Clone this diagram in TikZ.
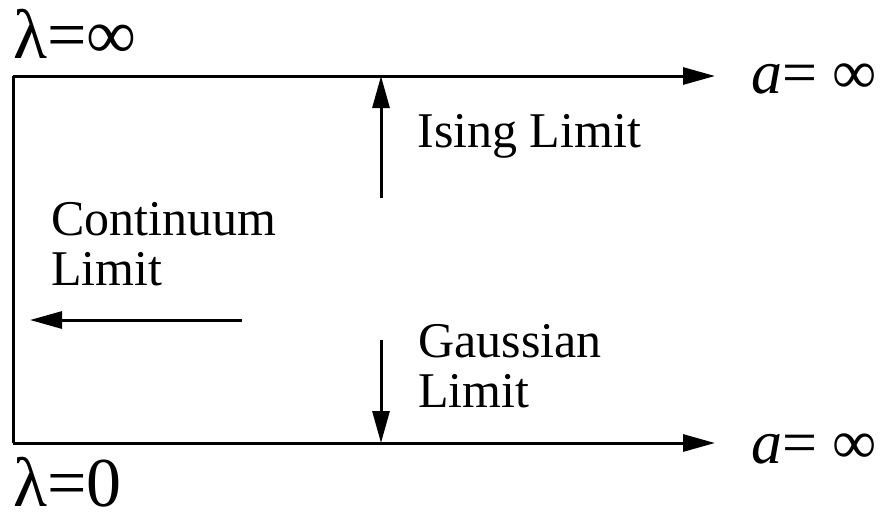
\documentclass[tikz,border=0pt]{standalone}
\usepackage{fontspec}
\setmainfont{Liberation Serif}
\usetikzlibrary{arrows.meta}
\begin{document}
\begin{tikzpicture}[x=0.5pt,y=-0.5pt,
  ln/.style={line width=1.5pt},
  arr/.style={ln,-{Triangle[length=16pt,width=8.5pt]}},
  lbl/.style={inner sep=0pt,anchor=base west,font=\fontsize{25}{25}\selectfont,align=left},
  big/.style={inner sep=0pt,anchor=base west,font=\fontsize{31}{31}\selectfont},
  lam/.style={inner sep=0pt,anchor=base west,font=\fontsize{35}{35}\selectfont}]
\useasboundingbox (0,0) rectangle (887,521);
\coordinate (tl) at (13,76);
\coordinate (bl) at (13,443);
\coordinate (tr) at (715,76);
\coordinate (br) at (715,443);
\coordinate (ut) at (381,76);
\coordinate (ub) at (381,198);
\coordinate (dt) at (381,340);
\coordinate (db) at (381,443);
\coordinate (ls) at (242,320);
\coordinate (le) at (30,320);
\draw[ln] (tl) -- (bl);
\draw[arr] (tl) -- (tr);
\draw[arr] (bl) -- (br);
\draw[arr] (ub) -- (ut);
\draw[arr] (dt) -- (db);
\draw[arr] (ls) -- (le);
\node[lam] (linf) at (13,58) {λ=∞};
\node[lam] (lzero) at (13,506) {λ=0};
\node[big] (atop) at (751,93) {\textit{a}= ∞};
\node[big] (abot) at (751,463) {\textit{a}= ∞};
\node[lbl] (ising) at (417,147) {Ising Limit};
\node[lbl] (cont) at (51,285) {Continuum\\Limit};
\node[lbl] (gauss) at (418,407) {Gaussian\\Limit};
\end{tikzpicture}
\end{document}
